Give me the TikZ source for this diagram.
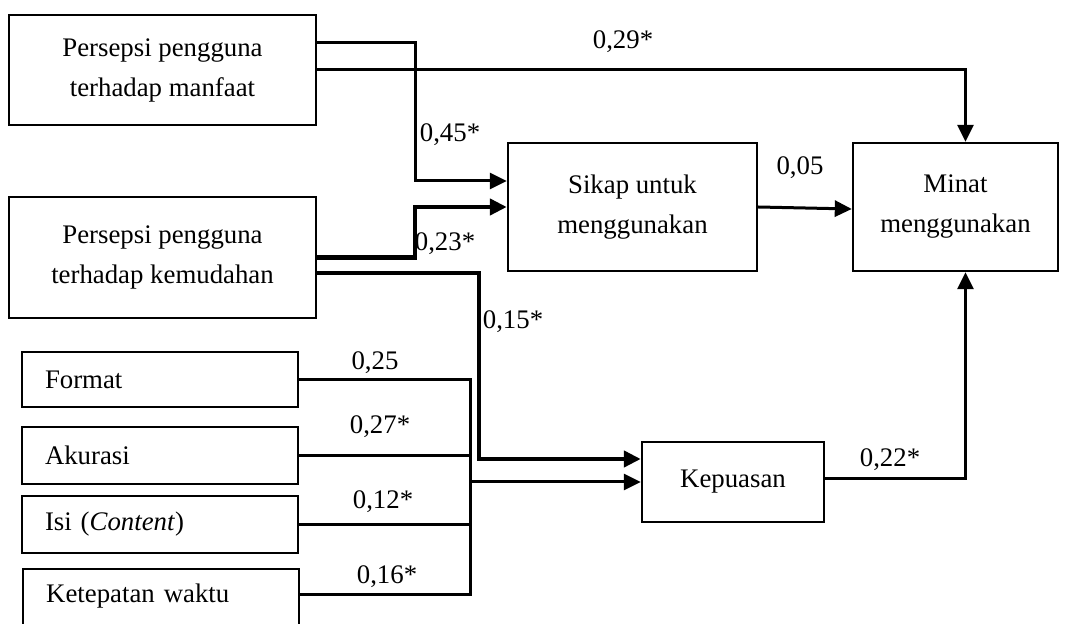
\documentclass[tikz,border=0pt]{standalone}
\usepackage{fontspec}
\setmainfont{Liberation Serif}
\usepackage{tikz}
\usetikzlibrary{positioning,arrows.meta}

\begin{document}
\begin{tikzpicture}[x=0.5pt, y=-0.5pt,
    font=\fontsize{13.4}{20}\selectfont,
    bigbox/.style={draw, line width=1.2pt, align=center, inner sep=0pt},
    smallbox/.style={draw, line width=1.2pt, align=left, inner xsep=11.5pt,
        inner ysep=0pt, text width=115pt},
    conn/.style={line width=1.5pt},
    heavy/.style={line width=2.2pt},
    tip/.style={-{Triangle[length=8.5pt,width=8pt]}},
    coef/.style={inner sep=0pt}]

\useasboundingbox (0,0) rectangle (1066,624);
\clip (0,0) rectangle (1066,624);

% ── Boxes ───────────────────────────────────────────────────
\node[bigbox, minimum width=153.5pt, minimum height=55pt] (manfaat) at (162.5, 70)
    {Persepsi pengguna\\terhadap manfaat};
\node[bigbox, minimum width=153.5pt, minimum height=60.5pt] (kemudahan) at (162.5, 257.5)
    {Persepsi pengguna\\terhadap kemudahan};
\node[bigbox, minimum width=124.5pt, minimum height=64pt] (sikap) at (632.5, 207)
    {Sikap untuk\\menggunakan};
\node[bigbox, minimum width=102.5pt, minimum height=64pt] (minat) at (955.5, 207)
    {Minat\\menggunakan};
\node[bigbox, minimum width=91pt, minimum height=40pt] (kepuasan) at (733, 482)
    {Kepuasan};

% quality factors (left, bottom)
\node[smallbox, minimum height=27.5pt] (format) at (160, 379.5) {Format};
\node[smallbox, minimum height=28.5pt] (akurasi) at (160, 455.5) {Akurasi};
\node[smallbox, minimum height=28.5pt] (isi) at (160, 524.5) {Isi (\textit{Content})};
\node[smallbox, anchor=north west, text height=16.5pt, text depth=24.5pt] (ketepatan)
    at (22, 568) {Ketepatan waktu};

% ── Connectors ──────────────────────────────────────────────
\draw[conn, tip] ([yshift=13.5pt]manfaat.east) -- ++(98,0) |- ([yshift=13pt]sikap.west);
\draw[conn, tip] (manfaat.east) -| ([xshift=5pt]minat.north);
\draw[heavy, tip] (kemudahan.east) -- ++(98,0) |- (sikap.west);
\draw[heavy, tip] ([yshift=-7.75pt]kemudahan.east) -| (479, 459) -- ([yshift=11.5pt]kepuasan.west);
\draw[conn, tip] (sikap.east) -- ([yshift=-1pt]minat.west);
\draw[conn, tip] ([yshift=1.5pt]kepuasan.east) -| ([xshift=5pt]minat.south);

% collector for the four factors
\coordinate (hub) at (470, 482);
\draw[conn] (format.east) -| (hub);
\draw[conn] (akurasi.east) -| (hub);
\draw[conn] (isi.east) -| (hub);
\draw[conn] ([yshift=-13.5pt]ketepatan.north east) -| (hub);
\draw[conn, tip] (hub) -- (kepuasan.west);

% ── Coefficients ────────────────────────────────────────────
\node[coef] (k29) at (623, 42) {0,29*};
\node[coef] (k45) at (450, 135) {0,45*};
\node[coef] (k23) at (445, 244) {0,23*};
\node[coef] (k05) at (800, 168) {0,05};
\node[coef] (k15) at (513, 322) {0,15*};
\node[coef] (k25) at (375, 363) {0,25};
\node[coef] (k27) at (380, 427) {0,27*};
\node[coef] (k12) at (383, 502) {0,12*};
\node[coef] (k16) at (387, 577) {0,16*};
\node[coef] (k22) at (890, 460) {0,22*};

\end{tikzpicture}
\end{document}
